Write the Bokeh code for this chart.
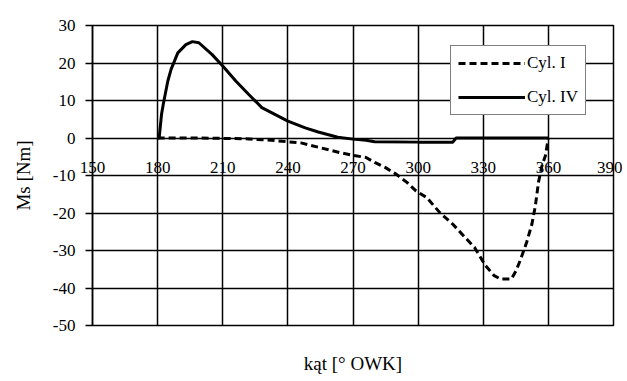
from bokeh.plotting import figure
from bokeh.models import LinearAxis, FixedTicker, Legend, LegendItem, Range1d, Grid
from bokeh.embed import file_html
from bokeh.resources import INLINE

# ---- data ----
cyl4_x = [180, 180.7, 181.8, 182.6, 184.7, 186.2, 189.3, 193, 196, 199, 205, 210, 216, 222,
          228, 234, 240, 248, 254, 263, 270, 276, 280, 300, 316, 317.5, 330, 345, 360]
cyl4_y = [0, 0, 6.3, 9, 15.2, 18.3, 22.7, 24.9, 25.7, 25.4, 22.3, 19.2, 15.2, 11.6,
          8.1, 6.3, 4.5, 2.7, 1.6, 0.2, -0.3, -0.6, -1.0, -1.1, -1.1, 0, 0, 0, 0]

cyl1_x = [180, 200, 220, 230, 240, 246, 255, 264, 270, 276, 280, 285, 290, 295, 299, 304,
          310, 316, 320, 326, 331, 335, 338, 343, 345, 347, 350, 352.4, 354, 355.5, 357,
          358.6, 360]
cyl1_y = [0, 0, -0.2, -0.5, -1.0, -1.3, -2.6, -3.9, -4.6, -5.2, -6.5, -7.9, -9.7, -11.9,
          -14.1, -15.9, -19.9, -23.0, -25.5, -29.2, -34.0, -36.7, -37.6, -37.6, -35.5,
          -32.7, -27.8, -23.0, -18.1, -11.6, -7.5, -4.8, 0]

x_ticks = [150, 180, 210, 240, 270, 300, 330, 360, 390]
y_ticks = [30, 20, 10, 0, -10, -20, -30, -40, -50]

series_names = ["Cyl. I", "Cyl. IV"]
x_title = "kąt [° OWK]"
y_title = "Ms [Nm]"

FONT = "Liberation Serif"

p = figure(width=622, height=380, output_backend="svg", toolbar_location=None,
           x_range=Range1d(min(x_ticks), max(x_ticks)),
           y_range=Range1d(min(y_ticks), max(y_ticks)),
           x_axis_type=None, y_axis_type=None,
           min_border_left=92, min_border_right=9, min_border_top=25, min_border_bottom=55)
p.outline_line_color = "black"
p.outline_line_width = 1.5
p.background_fill_color = "white"
p.border_fill_color = "white"

# y axis
yax = LinearAxis(ticker=FixedTicker(ticks=y_ticks))
yax.major_label_overrides = {t: str(t) for t in y_ticks}
yax.axis_label = y_title
yax.axis_label_text_font = FONT
yax.axis_label_text_font_size = "19px"
yax.axis_label_text_font_style = "normal"
yax.axis_label_text_color = "black"
yax.axis_label_standoff = 16
yax.major_label_text_font = FONT
yax.major_label_text_font_size = "17px"
yax.major_label_text_color = "black"
yax.major_tick_out = 7
yax.major_tick_in = 0
yax.major_tick_line_width = 1.5
yax.minor_tick_line_color = None
yax.axis_line_width = 1.5
yax.major_label_standoff = 10
p.add_layout(yax, "left")

# x tick labels, lifted up to sit under the y = 0 line
y0_px_above_bottom = 300 * (0 - min(y_ticks)) / (max(y_ticks) - min(y_ticks))
xax = LinearAxis(ticker=FixedTicker(ticks=x_ticks))
xax.axis_line_color = None
xax.major_tick_line_color = None
xax.major_tick_out = 0
xax.major_tick_in = 0
xax.minor_tick_line_color = None
xax.major_label_text_font = FONT
xax.major_label_text_font_size = "17px"
xax.major_label_text_color = "black"
xax.major_label_standoff = int(-(y0_px_above_bottom - 23))
p.add_layout(xax, "below")

# x axis title
xax2 = LinearAxis(ticker=FixedTicker(ticks=[]))
xax2.axis_line_color = None
xax2.major_tick_line_color = None
xax2.minor_tick_line_color = None
xax2.axis_label = x_title
xax2.axis_label_text_font = FONT
xax2.axis_label_text_font_size = "19px"
xax2.axis_label_text_font_style = "normal"
xax2.axis_label_text_color = "black"
xax2.axis_label_standoff = 27
p.add_layout(xax2, "below")

# grid
p.add_layout(Grid(dimension=0, ticker=FixedTicker(ticks=x_ticks),
                  grid_line_color="black", grid_line_width=1.5))
p.add_layout(Grid(dimension=1, ticker=FixedTicker(ticks=y_ticks),
                  grid_line_color="black", grid_line_width=1.5))

r1 = p.line(cyl1_x, cyl1_y, line_color="black", line_width=3, line_dash="7 4")
r4 = p.line(cyl4_x, cyl4_y, line_color="black", line_width=3)

legend = Legend(items=[LegendItem(label=series_names[0], renderers=[r1]),
                       LegendItem(label=series_names[1], renderers=[r4])],
                location=(358, 210))
legend.label_text_font = FONT
legend.label_text_font_size = "17px"
legend.label_text_color = "black"
legend.glyph_width = 67
legend.glyph_height = 20
legend.label_height = 20
legend.label_standoff = 2
legend.spacing = 14
legend.padding = 7
legend.margin = 0
legend.border_line_color = "black"
legend.border_line_width = 1.5
legend.background_fill_color = "white"
legend.background_fill_alpha = 1.0
p.add_layout(legend, "center")

with open("out.html", "w") as f:
    f.write(file_html(p, INLINE))
